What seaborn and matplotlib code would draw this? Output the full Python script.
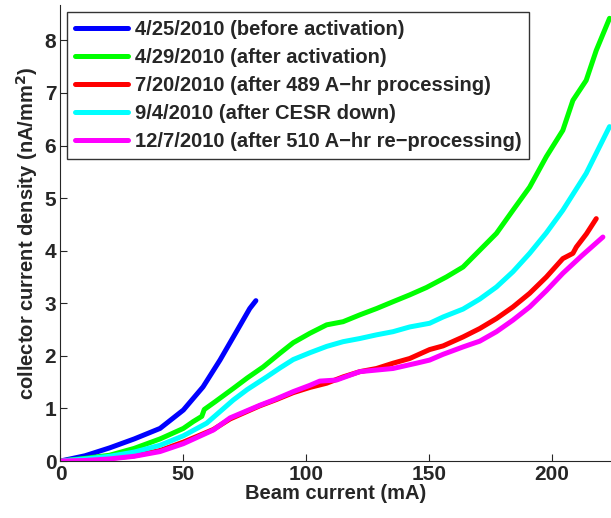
import pandas as pd
import matplotlib
matplotlib.use("Agg")
import matplotlib.pyplot as plt
import seaborn as sns

# values
labels = [
    "4/25/2010 (before activation)",
    "4/29/2010 (after activation)",
    "7/20/2010 (after 489 A\u2212hr processing)",
    "9/4/2010 (after CESR down)",
    "12/7/2010 (after 510 A\u2212hr re\u2212processing)",
]
colors = ["#0000ff", "#00ff00", "#ff0000", "#00ffff", "#ff00ff"]

blue_x = [0, 10, 20, 30, 40.5, 50, 58, 64.9, 71.7, 77, 79.5]
blue_y = [0, 0.10, 0.25, 0.42, 0.62, 0.97, 1.41, 1.92, 2.47, 2.90, 3.05]

green_x = [0, 10, 20, 30, 40.5, 50, 54, 57.5, 58.5, 63, 70.3, 76, 82.5, 89.3, 94.7,
           101.5, 108.3, 115, 121.8, 128.6, 135.3, 142.1, 148.9, 157, 163.8, 170.6,
           177.4, 184.1, 190.9, 197.7, 204.4, 208.5, 213.9, 218, 223.4]
green_y = [0, 0.05, 0.11, 0.24, 0.42, 0.62, 0.75, 0.85, 0.98, 1.13, 1.38, 1.58, 1.79,
           2.05, 2.25, 2.43, 2.59, 2.65, 2.78, 2.90, 3.03, 3.16, 3.30, 3.50, 3.69,
           4.01, 4.33, 4.77, 5.21, 5.79, 6.29, 6.86, 7.24, 7.81, 8.42]

red_x = [0, 10, 20, 30, 40.5, 50, 62.2, 69, 81.1, 87.9, 94.7, 101.5, 108.3, 115,
         121.8, 128.6, 135.3, 142.1, 150.2, 155.7, 163.8, 170.6, 177.4, 184.1, 190.9,
         197.7, 204.4, 208.5, 209.9, 214, 218]
red_y = [0, 0.02, 0.05, 0.10, 0.20, 0.36, 0.60, 0.80, 1.05, 1.17, 1.30, 1.40, 1.48,
         1.60, 1.70, 1.76, 1.86, 1.95, 2.12, 2.19, 2.36, 2.52, 2.71, 2.93, 3.19,
         3.50, 3.85, 3.95, 4.07, 4.32, 4.61]

cyan_x = [0, 10, 20, 30, 40.5, 50, 59.5, 70.3, 76, 83.9, 89.3, 94.7, 101.5, 108.3,
          115, 121.8, 128.6, 135.3, 142.1, 150.2, 155.7, 163.8, 170.6, 177.4, 184.1,
          190.9, 197.7, 204.4, 213.9, 223.4]
cyan_y = [0, 0.04, 0.09, 0.17, 0.30, 0.48, 0.72, 1.16, 1.36, 1.60, 1.77, 1.93, 2.06,
          2.18, 2.27, 2.33, 2.40, 2.46, 2.55, 2.62, 2.74, 2.89, 3.08, 3.31, 3.60,
          3.95, 4.34, 4.77, 5.47, 6.36]

magenta_x = [0, 10, 20, 30, 40.5, 50, 62.2, 69, 81.1, 87.2, 94.7, 101.5, 105.5, 112.3,
             121.8, 135.3, 144.8, 150.2, 155.7, 163.8, 170.6, 177.4, 184.1, 190.9,
             197.7, 204.4, 212, 220.7]
magenta_y = [0, 0.01, 0.04, 0.09, 0.18, 0.33, 0.59, 0.82, 1.06, 1.17, 1.32, 1.44, 1.52,
             1.54, 1.70, 1.76, 1.86, 1.92, 2.03, 2.17, 2.28, 2.46, 2.68, 2.93, 3.24,
             3.57, 3.90, 4.26]

series = [(blue_x, blue_y), (green_x, green_y), (red_x, red_y),
          (cyan_x, cyan_y), (magenta_x, magenta_y)]

frames = []
for lab, (xs, ys) in zip(labels, series):
    frames.append(pd.DataFrame({"beam": xs, "density": ys, "run": lab}))
df = pd.concat(frames, ignore_index=True)

sns.set_style("ticks")
plt.rcParams['font.family'] = ['Liberation Sans', 'DejaVu Sans']
plt.rcParams['font.weight'] = 'bold'

fig = plt.figure(figsize=(6.11, 5.18), dpi=100)
ax = fig.add_axes([0.099, 0.110, 0.901, 0.880])

sns.lineplot(data=df, x="beam", y="density", hue="run", hue_order=labels,
             palette=colors, sort=False, estimator=None, linewidth=3.6, ax=ax)

ax.set_xlim(0, 224)
ax.set_ylim(0, 8.67)
ax.set_xticks([0, 50, 100, 150, 200])
ax.set_yticks(range(0, 9))
ax.tick_params(direction="in", labelsize=15, length=5, width=0.8, pad=3)
for t in ax.get_xticklabels() + ax.get_yticklabels():
    t.set_fontweight("bold")
ax.set_xlabel("Beam current (mA)", fontsize=14.5, fontweight="bold", labelpad=0)
ax.set_ylabel("collector current density (nA/mm$^\\mathbf{2}$)", fontsize=14.5,
              fontweight="bold", labelpad=3)
sns.despine(ax=ax)
for s in ax.spines.values():
    s.set_linewidth(0.8)

leg = ax.legend(loc="upper left", bbox_to_anchor=(0.012, 0.985),
                prop={"weight": "bold", "size": 14.5}, frameon=True, fancybox=False,
                handlelength=2.6, handletextpad=0.35, labelspacing=0.45,
                borderpad=0.4, borderaxespad=0)
leg.get_frame().set_edgecolor("black")
leg.get_frame().set_linewidth(1.0)

fig.savefig("out.png", dpi=100)
